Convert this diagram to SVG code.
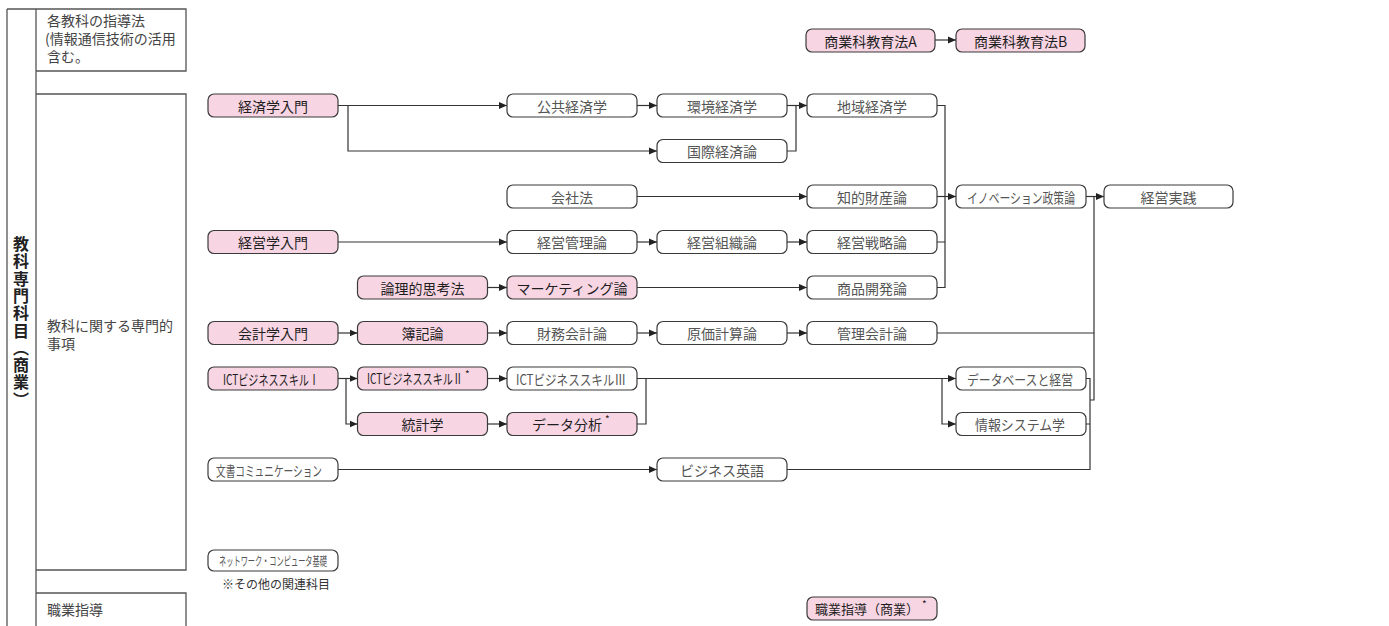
<svg xmlns="http://www.w3.org/2000/svg" width="1389" height="626" viewBox="0 0 1389 626">
<style>
.p{fill:#f8d5e3;stroke:#3a3a3a;stroke-width:1.2}
.w{fill:#fff;stroke:#3a3a3a;stroke-width:1.2}
.t{font-family:"Noto Sans CJK JP","Noto Sans",sans-serif;font-size:14px;text-anchor:middle;dominant-baseline:central}
.tp{fill:#1e1e1e}
.tw{fill:#555}
.s{font-family:"Noto Sans CJK JP","Noto Sans",sans-serif;font-size:10px;fill:#1e1e1e;text-anchor:start;dominant-baseline:central}
.c{fill:none;stroke:#333;stroke-width:1.2}
.a{marker-end:url(#ar)}
.f{fill:none;stroke:#555;stroke-width:1.3}
.lt{font-family:"Noto Sans CJK JP","Noto Sans",sans-serif;font-size:14px;fill:#444}
</style>
<defs>
<marker id="ar" markerUnits="userSpaceOnUse" markerWidth="9" markerHeight="8" refX="8" refY="4" orient="auto"><path d="M0,0.5 L8,4 L0,7.5 z" fill="#222"/></marker>
</defs>
<rect width="1389" height="626" fill="#fff"/>
<g id="frame">
<path class="f" d="M7,9 V626 M36,9 V626 M7,9 H186 V71 H36 M36,94 H186 V570 H36 M36,593 H186 V626"/>
<text x="21" y="236" style="writing-mode:vertical-rl;letter-spacing:1.3px" font-family="'Noto Sans CJK JP',sans-serif" font-size="16" font-weight="bold" fill="#222">教科専門科目（商業）</text>
<text class="lt" x="47" y="26">各教科の指導法</text>
<text class="lt" x="45" y="44">(情報通信技術の活用</text>
<text class="lt" x="47" y="62">含む。</text>
<text class="lt" x="47" y="331">教科に関する専門的</text>
<text class="lt" x="47" y="349">事項</text>
<text class="lt" x="47" y="615">職業指導</text>
</g>
<g id="connectors">
<path class="c a" d="M935,40 H956"/>
<path class="c a" d="M338,105.5 H507"/>
<path class="c a" d="M348,105.5 V151 H657"/>
<path class="c a" d="M637,105.5 H657"/>
<path class="c" d="M787,151 H796 V105.5"/>
<path class="c a" d="M787,105.5 H807"/>
<path class="c" d="M937,105.5 H945 V287.5 H937 M937,242 H945"/>
<path class="c a" d="M937,196.5 H956"/>
<path class="c a" d="M637,196.5 H807"/>
<path class="c a" d="M1086,196.5 H1104"/>
<path class="c" d="M1094,196.5 V400 H1090"/>
<path class="c" d="M937,333 H1094"/>
<path class="c" d="M1086,378.5 H1090 V469.5 H787 M1086,424 H1090"/>
<path class="c a" d="M338,242 H507"/>
<path class="c a" d="M637,242 H657"/>
<path class="c a" d="M787,242 H807"/>
<path class="c a" d="M487.5,287.5 H507"/>
<path class="c a" d="M637,287.5 H807"/>
<path class="c a" d="M338,333 H357.5"/>
<path class="c a" d="M487.5,333 H507"/>
<path class="c a" d="M637,333 H657"/>
<path class="c a" d="M787,333 H807"/>
<path class="c a" d="M338,378.5 H357.5"/>
<path class="c a" d="M346,378.5 V424 H357.5"/>
<path class="c a" d="M487.5,378.5 H507"/>
<path class="c a" d="M637,378.5 H956"/>
<path class="c a" d="M942,378.5 V424 H956"/>
<path class="c" d="M637,424 H646 V378.5"/>
<path class="c a" d="M487.5,424 H507"/>
<path class="c a" d="M338,469.5 H657"/>
</g>
<g id="n-shogyoA"><rect class="p" x="806" y="29" width="129" height="23" rx="6"/><text class="t tp" x="870.5" y="40.5">商業科教育法A</text></g>
<g id="n-shogyoB"><rect class="p" x="956" y="29" width="129" height="23" rx="6"/><text class="t tp" x="1020.5" y="40.5">商業科教育法B</text></g>

<g id="n-keizai"><rect class="p" x="208" y="94" width="130" height="23" rx="6"/><text class="t tp" x="273" y="105.5">経済学入門</text></g>
<g id="n-kokyo"><rect class="w" x="507" y="94" width="130" height="23" rx="6"/><text class="t tw" x="572" y="105.5">公共経済学</text></g>
<g id="n-kankyo"><rect class="w" x="657" y="94" width="130" height="23" rx="6"/><text class="t tw" x="722" y="105.5">環境経済学</text></g>
<g id="n-chiiki"><rect class="w" x="807" y="94" width="130" height="23" rx="6"/><text class="t tw" x="872" y="105.5">地域経済学</text></g>
<g id="n-kokusai"><rect class="w" x="657" y="139.5" width="130" height="23" rx="6"/><text class="t tw" x="722" y="151">国際経済論</text></g>
<g id="n-kaisha"><rect class="w" x="507" y="185" width="130" height="23" rx="6"/><text class="t tw" x="572" y="196.5">会社法</text></g>
<g id="n-chiteki"><rect class="w" x="807" y="185" width="130" height="23" rx="6"/><text class="t tw" x="872" y="196.5">知的財産論</text></g>
<g id="n-innov"><rect class="w" x="956" y="185" width="130" height="23" rx="6"/><text class="t tw" x="1021" y="196.5" textLength="108" lengthAdjust="spacingAndGlyphs">イノベーション政策論</text></g>
<g id="n-jissen"><rect class="w" x="1104" y="185" width="129" height="23" rx="6"/><text class="t tw" x="1168.5" y="196.5">経営実践</text></g>
<g id="n-keiei"><rect class="p" x="208" y="230.5" width="130" height="23" rx="6"/><text class="t tp" x="273" y="242">経営学入門</text></g>
<g id="n-kanri"><rect class="w" x="507" y="230.5" width="130" height="23" rx="6"/><text class="t tw" x="572" y="242">経営管理論</text></g>
<g id="n-soshiki"><rect class="w" x="657" y="230.5" width="130" height="23" rx="6"/><text class="t tw" x="722" y="242">経営組織論</text></g>
<g id="n-senryaku"><rect class="w" x="807" y="230.5" width="130" height="23" rx="6"/><text class="t tw" x="872" y="242">経営戦略論</text></g>
<g id="n-ronri"><rect class="p" x="357.5" y="276" width="130" height="23" rx="6"/><text class="t tp" x="422.5" y="287.5">論理的思考法</text></g>
<g id="n-marketing"><rect class="p" x="507" y="276" width="130" height="23" rx="6"/><text class="t tp" x="572" y="287.5">マーケティング論</text></g>
<g id="n-shohin"><rect class="w" x="807" y="276" width="130" height="23" rx="6"/><text class="t tw" x="872" y="287.5">商品開発論</text></g>
<g id="n-kaikei"><rect class="p" x="208" y="321.5" width="130" height="23" rx="6"/><text class="t tp" x="273" y="333">会計学入門</text></g>
<g id="n-boki"><rect class="p" x="357.5" y="321.5" width="130" height="23" rx="6"/><text class="t tp" x="422.5" y="333">簿記論</text></g>
<g id="n-zaimu"><rect class="w" x="507" y="321.5" width="130" height="23" rx="6"/><text class="t tw" x="572" y="333">財務会計論</text></g>
<g id="n-genka"><rect class="w" x="657" y="321.5" width="130" height="23" rx="6"/><text class="t tw" x="722" y="333">原価計算論</text></g>
<g id="n-kanrikaikei"><rect class="w" x="807" y="321.5" width="130" height="23" rx="6"/><text class="t tw" x="872" y="333">管理会計論</text></g>
<g id="n-ict1"><rect class="p" x="208" y="367" width="130" height="23" rx="6"/><text class="t tp" x="271" y="378.5" textLength="96" lengthAdjust="spacingAndGlyphs">ICTビジネススキルⅠ</text></g>
<g id="n-ict2"><rect class="p" x="357.5" y="367" width="130" height="23" rx="6"/><text class="t tp" transform="translate(415 378.5) scale(0.72 1)" x="0" y="0">ICTビジネススキルⅡ</text><text class="s" x="465" y="373">*</text></g>
<g id="n-ict3"><rect class="w" x="507" y="367" width="130" height="23" rx="6"/><text class="t tw" x="571" y="378.5" textLength="110" lengthAdjust="spacingAndGlyphs">ICTビジネススキルⅢ</text></g>
<g id="n-db"><rect class="w" x="956" y="367" width="130" height="23" rx="6"/><text class="t tw" x="1020" y="378.5" textLength="106" lengthAdjust="spacingAndGlyphs">データベースと経営</text></g>
<g id="n-tokei"><rect class="p" x="357.5" y="412.5" width="130" height="23" rx="6"/><text class="t tp" x="422.5" y="424">統計学</text></g>
<g id="n-data"><rect class="p" x="507" y="412.5" width="130" height="23" rx="6"/><text class="t tp" x="567" y="424">データ分析</text><text class="s" x="605" y="418">*</text></g>
<g id="n-joho"><rect class="w" x="956" y="412.5" width="130" height="23" rx="6"/><text class="t tw" x="1020" y="424" textLength="90" lengthAdjust="spacingAndGlyphs">情報システム学</text></g>
<g id="n-bunsho"><rect class="w" x="208" y="458" width="130" height="23" rx="6"/><text class="t tw" x="269" y="469.5" textLength="106" lengthAdjust="spacingAndGlyphs">文書コミュニケーション</text></g>
<g id="n-eigo"><rect class="w" x="657" y="458" width="130" height="23" rx="6"/><text class="t tw" x="722" y="469.5">ビジネス英語</text></g>
<g id="n-network"><rect class="w" x="208" y="550" width="130" height="21" rx="6"/><text class="t tw" x="273" y="560.5" style="font-size:12px" textLength="108" lengthAdjust="spacingAndGlyphs">ネットワーク・コンピュータ基礎</text></g>
<text id="note" x="222" y="589" font-family="'Noto Sans CJK JP',sans-serif" font-size="12" fill="#333">※その他の関連科目</text>
<g id="n-shokugyo"><rect class="p" x="807" y="597" width="130" height="23" rx="6"/><text class="t tp" x="867" y="608.5" style="font-size:13px">職業指導（商業）</text><text class="s" x="922" y="603">*</text></g>
</svg>
